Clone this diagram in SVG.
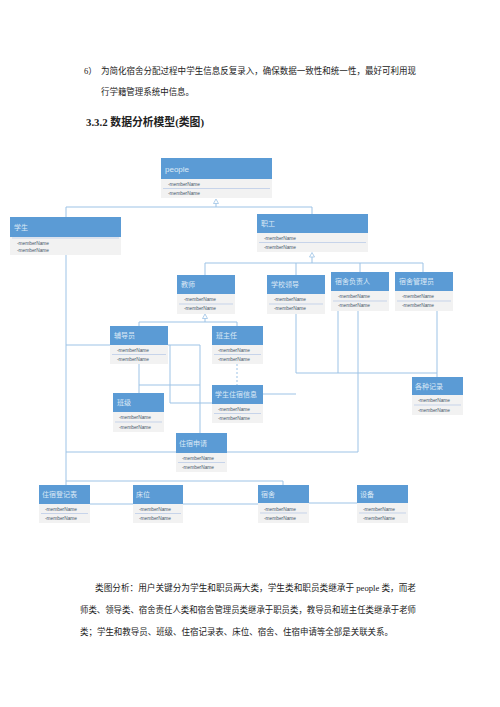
<svg xmlns="http://www.w3.org/2000/svg" width="500" height="707" viewBox="0 0 500 707">
<style>
.body{font-family:"Liberation Serif","Noto Sans CJK SC",serif;font-size:8.6px;fill:#222}
.h{font-family:"Liberation Serif","Noto Sans CJK SC",serif;font-size:11px;font-weight:bold;fill:#222}
.hd{fill:#5b9bd5}
.at{fill:#f2f2f2}
.sep{stroke:#b4c7e7;stroke-width:0.7}
.ht{font-family:"Noto Sans CJK SC",sans-serif;font-size:7px;fill:#dce9f6}
.mt{font-family:"Liberation Sans",sans-serif;font-size:4.8px;fill:#44546a}
.c{fill:none;stroke:#9dc3e6;stroke-width:1}
.tri{fill:#fff;stroke:#9dc3e6;stroke-width:0.8}
</style>
<rect width="500" height="707" fill="#fff"/>
<text class="body" x="84" y="74">6）</text>
<text class="body" x="101" y="74" textLength="315" lengthAdjust="spacingAndGlyphs">为简化宿舍分配过程中学生信息反复录入，确保数据一致性和统一性，最好可利用现</text>
<text class="body" x="101" y="95" textLength="93" lengthAdjust="spacingAndGlyphs">行学籍管理系统中信息。</text>
<text class="h" x="86" y="126" textLength="118" lengthAdjust="spacingAndGlyphs">3.3.2 数据分析模型(类图)</text>

<g id="connectors">
<path class="c" d="M216,203 V207 M66,207 H312 M66,207 V217 M312,207 V214"/>
<path class="c" d="M312,257 V263 M205,263 H423 M205,263 V275 M296,263 V275 M360,263 V272 M423,263 V272"/>
<path class="c" d="M205,318 V322 M139,322 H237 M139,322 V326 M237,322 V326"/>
<path class="c" d="M66,255 V485 M66,345 H110 M168,345 H200 M170,345 V403 H212 M200,345 V433 M139,364 V393 M139,385 H200"/>
<path class="c" d="M237,364 V385" stroke-dasharray="2,2"/>
<path class="c" d="M296,314 V373 H437 M437,311 V377 M263,394 H296 M338,311 V373"/>
<path class="c" d="M358,311 V452 H227 M66,452 H176"/>
<path class="c" d="M66,481 H283 V485 M90,504 H133 M183,504 H258 M309,503 H357"/>
<path class="tri" d="M216,199 L213.5,203.5 H218.5 Z M312,252.5 L309.5,257 H314.5 Z M205,314 L202.5,318.5 H207.5 Z"/>
</g>

<g id="people">
<rect class="hd" x="161" y="158" width="111" height="21"/>
<rect class="at" x="161" y="179" width="111" height="19"/>
<line class="sep" x1="163" y1="188.5" x2="270" y2="188.5"/>
<text class="ht" x="165" y="171.5" style="font-size:8px;font-family:'Liberation Sans',sans-serif">people</text>
<text class="mt" x="168" y="186">-memberName</text>
<text class="mt" x="168" y="195">-memberName</text>
</g>

<g id="student">
<rect class="hd" x="10" y="217" width="111" height="20"/>
<rect class="at" x="10" y="237" width="111" height="18"/>
<line class="sep" x1="12" y1="238" x2="119" y2="238"/>
<text class="ht" x="14" y="229.5">学生</text>
<text class="mt" x="17" y="244.5">-memberName</text>
<text class="mt" x="17" y="252">-memberName</text>
</g>

<g id="staff">
<rect class="hd" x="257" y="214" width="111" height="19"/>
<rect class="at" x="257" y="233" width="111" height="19"/>
<line class="sep" x1="259" y1="242.5" x2="366" y2="242.5"/>
<text class="ht" x="261" y="226">职工</text>
<text class="mt" x="264" y="240">-memberName</text>
<text class="mt" x="264" y="249">-memberName</text>
</g>

<g id="teacher">
<rect class="hd" x="177" y="275" width="58" height="19"/>
<rect class="at" x="177" y="294" width="58" height="20"/>
<line class="sep" x1="179" y1="304" x2="233" y2="304"/>
<text class="ht" x="181" y="287">教师</text>
<text class="mt" x="184" y="301">-memberName</text>
<text class="mt" x="184" y="310">-memberName</text>
</g>

<g id="leader">
<rect class="hd" x="267" y="275" width="58" height="19"/>
<rect class="at" x="267" y="294" width="58" height="20"/>
<line class="sep" x1="269" y1="304" x2="323" y2="304"/>
<text class="ht" x="271" y="287">学校领导</text>
<text class="mt" x="274" y="301">-memberName</text>
<text class="mt" x="274" y="310">-memberName</text>
</g>

<g id="dormHead">
<rect class="hd" x="331" y="272" width="58" height="19"/>
<rect class="at" x="331" y="291" width="58" height="20"/>
<line class="sep" x1="333" y1="301" x2="387" y2="301"/>
<text class="ht" x="335" y="284">宿舍负责人</text>
<text class="mt" x="338" y="298">-memberName</text>
<text class="mt" x="338" y="307">-memberName</text>
</g>

<g id="dormAdmin">
<rect class="hd" x="395" y="272" width="58" height="19"/>
<rect class="at" x="395" y="291" width="58" height="20"/>
<line class="sep" x1="397" y1="301" x2="451" y2="301"/>
<text class="ht" x="399" y="284">宿舍管理员</text>
<text class="mt" x="402" y="298">-memberName</text>
<text class="mt" x="402" y="307">-memberName</text>
</g>

<g id="counselor">
<rect class="hd" x="110" y="326" width="58" height="19"/>
<rect class="at" x="110" y="345" width="58" height="19"/>
<line class="sep" x1="112" y1="354.5" x2="166" y2="354.5"/>
<text class="ht" x="114" y="338">辅导员</text>
<text class="mt" x="117" y="352">-memberName</text>
<text class="mt" x="117" y="361">-memberName</text>
</g>

<g id="headTeacher">
<rect class="hd" x="212" y="326" width="51" height="19"/>
<rect class="at" x="212" y="345" width="51" height="19"/>
<line class="sep" x1="214" y1="354.5" x2="261" y2="354.5"/>
<text class="ht" x="216" y="338">班主任</text>
<text class="mt" x="218" y="352">-memberName</text>
<text class="mt" x="218" y="361">-memberName</text>
</g>

<g id="class">
<rect class="hd" x="113" y="393" width="51" height="19"/>
<rect class="at" x="113" y="412" width="51" height="20"/>
<line class="sep" x1="115" y1="422" x2="162" y2="422"/>
<text class="ht" x="117" y="405">班级</text>
<text class="mt" x="119" y="419">-memberName</text>
<text class="mt" x="119" y="428.5">-memberName</text>
</g>

<g id="stayInfo">
<rect class="hd" x="212" y="385" width="51" height="19"/>
<rect class="at" x="212" y="404" width="51" height="19"/>
<line class="sep" x1="214" y1="413.5" x2="261" y2="413.5"/>
<text class="ht" x="215" y="397">学生住宿信息</text>
<text class="mt" x="218" y="411">-memberName</text>
<text class="mt" x="218" y="420">-memberName</text>
</g>

<g id="records">
<rect class="hd" x="412" y="377" width="51" height="18"/>
<rect class="at" x="412" y="395" width="51" height="20"/>
<line class="sep" x1="414" y1="405" x2="461" y2="405"/>
<text class="ht" x="415" y="388.5">各种记录</text>
<text class="mt" x="418" y="402">-memberName</text>
<text class="mt" x="418" y="411.5">-memberName</text>
</g>

<g id="apply">
<rect class="hd" x="176" y="433" width="51" height="20"/>
<rect class="at" x="176" y="453" width="51" height="19"/>
<line class="sep" x1="178" y1="462.5" x2="225" y2="462.5"/>
<text class="ht" x="179" y="445.5">住宿申请</text>
<text class="mt" x="182" y="460">-memberName</text>
<text class="mt" x="182" y="469">-memberName</text>
</g>

<g id="register">
<rect class="hd" x="39" y="485" width="51" height="19"/>
<rect class="at" x="39" y="504" width="51" height="19"/>
<line class="sep" x1="41" y1="513.5" x2="88" y2="513.5"/>
<text class="ht" x="42" y="497">住宿登记表</text>
<text class="mt" x="45" y="511">-memberName</text>
<text class="mt" x="45" y="520">-memberName</text>
</g>

<g id="bed">
<rect class="hd" x="133" y="485" width="50" height="19"/>
<rect class="at" x="133" y="504" width="50" height="19"/>
<line class="sep" x1="135" y1="513.5" x2="181" y2="513.5"/>
<text class="ht" x="136" y="497">床位</text>
<text class="mt" x="139" y="511">-memberName</text>
<text class="mt" x="139" y="520">-memberName</text>
</g>

<g id="dorm">
<rect class="hd" x="258" y="485" width="51" height="18"/>
<rect class="at" x="258" y="503" width="51" height="20"/>
<line class="sep" x1="260" y1="513" x2="307" y2="513"/>
<text class="ht" x="261" y="497">宿舍</text>
<text class="mt" x="264" y="510.5">-memberName</text>
<text class="mt" x="264" y="520">-memberName</text>
</g>

<g id="device">
<rect class="hd" x="357" y="485" width="51" height="18"/>
<rect class="at" x="357" y="503" width="51" height="20"/>
<line class="sep" x1="359" y1="513" x2="406" y2="513"/>
<text class="ht" x="360" y="497">设备</text>
<text class="mt" x="363" y="510.5">-memberName</text>
<text class="mt" x="363" y="520">-memberName</text>
</g>

<text class="body" x="95" y="591" textLength="321" lengthAdjust="spacingAndGlyphs">类图分析：用户关键分为学生和职员两大类，学生类和职员类继承于 people 类，而老</text>
<text class="body" x="80" y="613" textLength="336" lengthAdjust="spacingAndGlyphs">师类、领导类、宿舍责任人类和宿舍管理员类继承于职员类，教导员和班主任类继承于老师</text>
<text class="body" x="80" y="635" textLength="313" lengthAdjust="spacingAndGlyphs">类；学生和教导员、班级、住宿记录表、床位、宿舍、住宿申请等全部是关联关系。</text>
</svg>
